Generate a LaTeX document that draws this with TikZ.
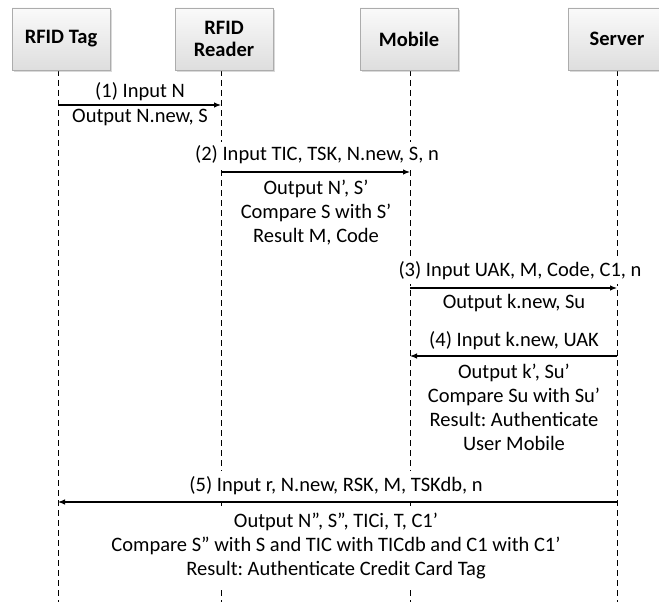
\documentclass[tikz,border=0pt]{standalone}
\usepackage{fontspec}
\setmainfont{Carlito}
\usetikzlibrary{arrows.meta,shadows}
\frenchspacing
\begin{document}
\begin{tikzpicture}[x=1pt,y=-1pt,
  actor/.style={draw=gray!65, top color=white!98!black, bottom color=white!87!black,
    minimum width=98pt, minimum height=62pt, align=center,
    font=\fontsize{20.5}{24}\selectfont\bfseries,
    drop shadow={shadow xshift=2pt, shadow yshift=-2pt, opacity=0.3}},
  lifeline/.style={dash pattern=on 6pt off 4pt, line width=0.9pt},
  msg/.style={-{Latex[length=7pt,width=5.5pt]}, line width=1.1pt},
  note/.style={fill=white, align=center, inner xsep=6pt, inner ysep=4pt,
    font=\fontsize{20.5}{24}\selectfont},
]
\path[use as bounding box] (0,0) rectangle (659,602);
\clip (0,0) rectangle (659,602);

% lifelines
\coordinate (tagend) at (58,602);
\coordinate (readerend) at (221,602);
\coordinate (mobileend) at (410,602);
\coordinate (serverend) at (617,602);
\draw[lifeline] (58,70) -- (tagend);
\draw[lifeline] (221,70) -- (readerend);
\draw[lifeline] (410,70) -- (mobileend);
\draw[lifeline] (617,70) -- (serverend);

% participants
\node[actor] (tag) at (61,39) {RFID Tag};
\node[actor] (reader) at (224,39) {RFID\\[-2pt]Reader};
\node[actor] (mobile) at (409,39) {Mobile};
\node[actor] (server) at (617,39) {Server};

% message texts
\node[note] (l1) at (140,92) {(1) Input N};
\node[note] (r1) at (140,117) {Output N.new, S};
\node[note] (l2) at (317,155) {(2) Input TIC, TSK, N.new, S, n};
\node[note] (r2) at (316,213) {Output N’, S’\\Compare S with S’\\Result M, Code};
\node[note] (l3) at (520,271) {(3) Input UAK, M, Code, C1, n};
\node[note] (r3) at (514,303) {Output k.new, Su};
\node[note] (l4) at (514,341) {(4) Input k.new, UAK};
\node[note] (r4) at (514,407) {Output k’, Su’\\Compare Su with Su’\\Result: Authenticate\\User Mobile};
\node[note, inner ysep=6pt] (l5) at (336,486) {(5) Input r, N.new, RSK, M, TSKdb, n};
\node[note, inner ysep=7pt] (r5) at (336,546) {Output N”, S”, TICi, T, C1’\\Compare S” with S and TIC with TICdb and C1 with C1’\\Result: Authenticate Credit Card Tag};

% messages
\coordinate (m1a) at (58,105);   \coordinate (m1b) at (221,105);
\coordinate (m2a) at (221,172);  \coordinate (m2b) at (410,172);
\coordinate (m3a) at (410,288);  \coordinate (m3b) at (617,288);
\coordinate (m4a) at (617,356);  \coordinate (m4b) at (410,356);
\coordinate (m5a) at (617,502);  \coordinate (m5b) at (58,502);
\draw[msg] (m1a) -- (m1b);
\draw[msg] (m2a) -- (m2b);
\draw[msg] (m3a) -- (m3b);
\draw[msg] (m4a) -- (m4b);
\draw[msg] (m5a) -- (m5b);
\end{tikzpicture}
\end{document}
